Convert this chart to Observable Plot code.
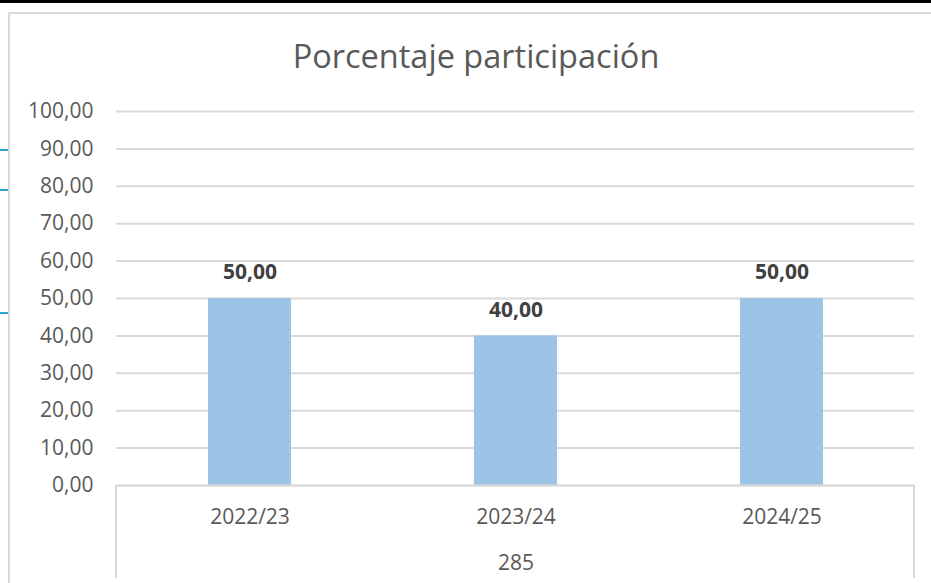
<!DOCTYPE html>
<html>
<head>
<meta charset="utf-8">
<script src="https://cdn.jsdelivr.net/npm/d3@7"></script>
<script src="https://cdn.jsdelivr.net/npm/@observablehq/plot@0.6"></script>
<style>
  html, body { margin: 0; padding: 0; background: #fff; }
  #wrap { position: relative; width: 931px; height: 583px; overflow: hidden; font-family: "Open Sans", sans-serif; }
  #wrap svg { position: absolute; left: 0; top: 0; }
  .deco { position: absolute; }
  #title { position: absolute; left: 0; width: 952px; top: 33px; text-align: center; font-size: 32.5px; color: #595959; }
</style>
</head>
<body>
<div id="wrap">
  <div id="chart"></div>
  <div id="title">Porcentaje participación</div>
  <div class="deco" style="left:0;top:0;width:931px;height:3px;background:#000"></div>
  <div class="deco" style="left:8px;top:12px;width:923px;height:2px;background:#d9d9d9"></div>
  <div class="deco" style="left:8px;top:12px;width:2px;height:571px;background:#d9d9d9"></div>
  <div class="deco" style="left:0;top:149px;width:8px;height:2px;background:#2ea3da"></div>
  <div class="deco" style="left:0;top:189px;width:8px;height:2px;background:#2ea3da"></div>
  <div class="deco" style="left:0;top:312px;width:8px;height:2px;background:#2ea3da"></div>
  <div class="deco" style="left:115px;top:485px;width:2px;height:93px;background:#d9d9d9"></div>
  <div class="deco" style="left:913px;top:485px;width:2px;height:93px;background:#d9d9d9"></div>
</div>
<script>
const categories = ["2022/23", "2023/24", "2024/25"];
const values = [50, 40, 50];
const groupLabel = "285";
const yTicks = [0, 10, 20, 30, 40, 50, 60, 70, 80, 90, 100];

const data = categories.map((c, i) => ({cat: c, val: values[i]}));
const fmt = d => d.toFixed(2).replace(".", ",");

const chart = Plot.plot({
  width: 931,
  height: 583,
  marginLeft: 116,
  marginRight: 17,
  marginTop: 111,
  marginBottom: 98,
  style: {fontFamily: "'Open Sans', sans-serif", fontSize: "21px", color: "#595959", background: "transparent"},
  x: {domain: categories, paddingInner: 0.688, paddingOuter: 0.344, label: null},
  y: {domain: [0, 100], label: null},
  marks: [
    Plot.ruleY(yTicks, {stroke: "#d9d9d9", strokeWidth: 2}),
    Plot.barY(data, {x: "cat", y: "val", fill: "#9dc3e6"}),
    Plot.ruleY([0], {stroke: "#d9d9d9", strokeWidth: 2}),
    Plot.axisY({ticks: yTicks, tickFormat: fmt, tickSize: 0, tickPadding: 23, fontSize: 21, fill: "#595959", label: null}),
    Plot.axisX({tickSize: 0, tickPadding: 24, fontSize: 21, fill: "#595959", label: null}),
    Plot.text(data, {x: "cat", y: "val", text: d => fmt(d.val), dy: -26, fontSize: 21, fontWeight: "bold", fill: "#404040"}),
    Plot.text([groupLabel], {x: () => categories[1], frameAnchor: "bottom", dy: 84, text: d => d, fontSize: 21, fill: "#595959"})
  ]
});
document.getElementById("chart").appendChild(chart);
</script>
</body>
</html>
